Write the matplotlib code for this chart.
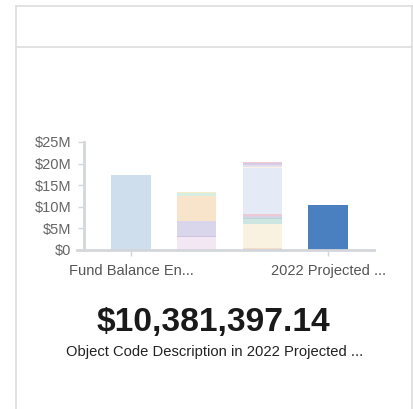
import matplotlib
matplotlib.use("Agg")
import matplotlib.pyplot as plt
from matplotlib.lines import Line2D
from matplotlib.ticker import FuncFormatter

plt.rcParams['font.family'] = ['Liberation Sans', 'DejaVu Sans']

# stacked pieces per column, bottom to top (millions of dollars)
fund_balance = [0.25, 17.15]
column_two = [3.08, 0.10, 3.60, 5.65, 0.76, 0.30]
column_three = [0.15, 0.37, 5.49, 1.16, 0.30, 0.46, 0.32, 10.65, 0.30, 0.46, 0.46, 0.30]
projected_2022 = [10.38139714]

fund_colors = ['#b3c8df', '#cfdeed']
two_colors = ['#f3e7f3', '#cfc3e2', '#d9d5ea', '#f8e4cb', '#d7eee3', '#f6ebc8']
three_colors = ['#b7cfe0', '#f5dcc6', '#faf2e0', '#cde6e1', '#b8d8d2', '#d7d3e6',
                '#ecc9d4', '#e4eaf6', '#f8f3e4', '#e6dff0', '#d6cbe4', '#f0c9d2']
projected_colors = ['#4a80c0']

tick_pos = [0, 3]
tick_labels = ['Fund Balance En...', '2022 Projected ...']
y_ticks = [0, 5, 10, 15, 20, 25]
headline = '$10,381,397.14'
caption = 'Object Code Description in 2022 Projected ...'

fig = plt.figure(figsize=(4.13, 4.09), dpi=100)
W, H = 413, 409

# card outline with header strip
grey = '#dddddd'
def px_line(xs, ys):
    fig.add_artist(Line2D([x / W for x in xs], [1 - y / H for y in ys],
                          color=grey, lw=1.2, transform=fig.transFigure))
px_line([15.5, 411.5], [5.5, 5.5])
px_line([15.5, 411.5], [47, 47])
px_line([15.5, 15.5], [5.5, 409])
px_line([411.5, 411.5], [5.5, 409])

ax = fig.add_axes([77 / W, 1 - 250 / H, 297 / W, 108 / H])

stacks = [(fund_balance, fund_colors), (column_two, two_colors),
          (column_three, three_colors), (projected_2022, projected_colors)]
for i, (vals, cols) in enumerate(stacks):
    bottom = 0
    for v, c in zip(vals, cols):
        ax.bar(i, v * 1e6, bottom=bottom * 1e6, width=0.6, color=c, linewidth=0)
        bottom += v

ax.set_xlim(-0.82, 3.70)
ax.set_ylim(0, 25e6)
ax.set_yticks([t * 1e6 for t in y_ticks])
ax.yaxis.set_major_formatter(FuncFormatter(lambda v, p: f'${v / 1e6:.0f}M' if v else '$0'))
ax.set_xticks(tick_pos)
ax.set_xticklabels(tick_labels)

axis_grey = '#d3d6da'
for s in ['top', 'right']:
    ax.spines[s].set_visible(False)
ax.spines['left'].set_position(('axes', 0.024))
ax.spines['left'].set_color(axis_grey)
ax.spines['left'].set_linewidth(2)
ax.spines['bottom'].set_color(axis_grey)
ax.spines['bottom'].set_linewidth(2)
ax.tick_params(axis='y', colors=axis_grey, length=4, width=1, pad=5,
               labelcolor='#666666', labelsize=10.5)
ax.tick_params(axis='x', colors=axis_grey, length=4, width=1, pad=6,
               labelcolor='#555555', labelsize=10.5)
ax.set_facecolor('none')

fig.text(213 / W, 1 - 323 / H, headline, ha='center', va='center',
         fontsize=24.2, fontweight='bold', color='#1a1a1a')
fig.text(214.5 / W, 1 - 352 / H, caption, ha='center', va='center',
         fontsize=10.6, color='#222222')

fig.savefig('out.png', dpi=100)
